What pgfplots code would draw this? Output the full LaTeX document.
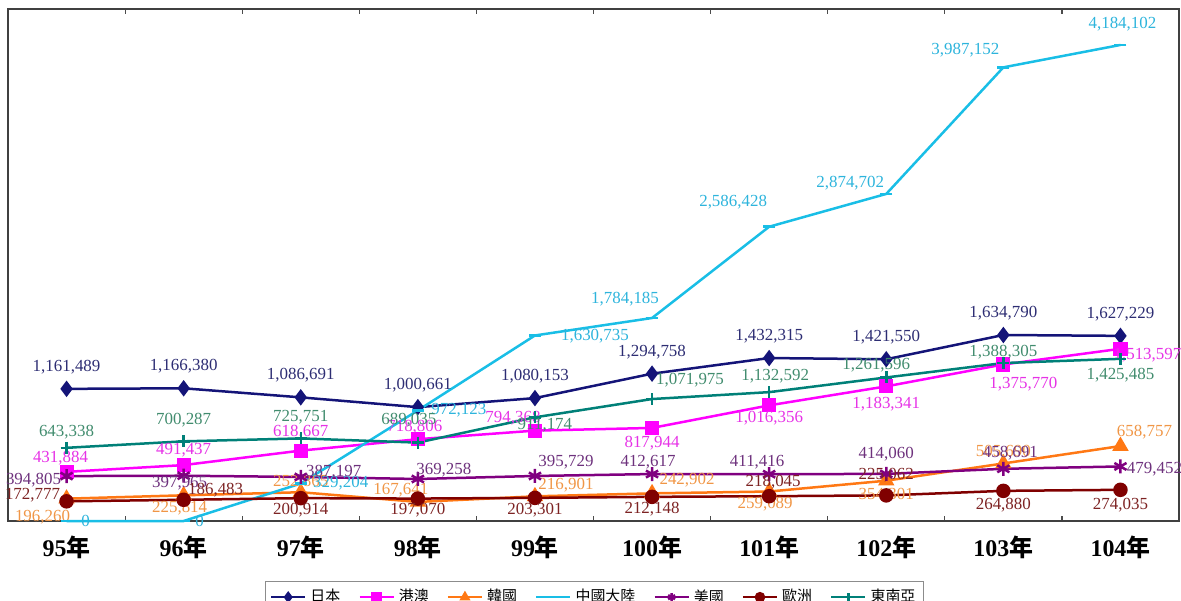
\documentclass[border=0pt]{standalone}
\usepackage{pgfplots}
\pgfplotsset{compat=1.18}
\usepackage{pgfplotstable}
\usepackage{fontspec}
\setmainfont{Liberation Serif}
\newfontfamily\cjk{Noto Sans CJK TC}

\definecolor{cJP}{RGB}{20,20,120}
\definecolor{cHK}{RGB}{255,0,255}
\definecolor{cKR}{RGB}{255,120,20}
\definecolor{cCN}{RGB}{25,190,230}
\definecolor{cUS}{RGB}{128,0,128}
\definecolor{cEU}{RGB}{128,0,0}
\definecolor{cSEA}{RGB}{0,128,120}
\definecolor{lJP}{RGB}{45,45,115}
\definecolor{lHK}{RGB}{230,50,230}
\definecolor{lKR}{RGB}{240,150,70}
\definecolor{lCN}{RGB}{45,180,220}
\definecolor{lUS}{RGB}{110,50,125}
\definecolor{lEU}{RGB}{125,35,35}
\definecolor{lSEA}{RGB}{65,140,110}

\pgfplotstableread{
x y lab dx dy
95 1161489 1,161,489 0 11
96 1166380 1,166,380 0 11
97 1086691 1,086,691 0 11
98 1000661 1,000,661 0 11
99 1080153 1,080,153 0 11
100 1294758 1,294,758 0 11
101 1432315 1,432,315 0 11
102 1421550 1,421,550 0 11
103 1634790 1,634,790 0 11
104 1627229 1,627,229 0 11
}\tJP
\pgfplotstableread{
x y lab dx dy
95 431884 431,884 -3 7
96 491437 491,437 0 7.5
97 618667 618,667 0 9
98 718806 718,806 -1.5 6
99 794368 794,368 -11 6
100 817944 817,944 0 -7.5
101 1016356 1,016,356 0 -6.5
102 1183341 1,183,341 0 -9
103 1375770 1,375,770 10 -10
104 1513597 1,513,597 13.5 -3
}\tHK
\pgfplotstableread{
x y lab dx dy
95 196260 196,260 -12 -9
96 225814 225,814 -2 -6.5
97 252865 252,865 0 5
98 167641 167,641 -8.5 6
99 216901 216,901 15.5 5.5
100 242902 242,902 17.5 6.5
101 259089 259,089 -2 -6.5
102 354301 354,301 0 -7
103 505690 505,690 0 5.5
104 658757 658,757 12 7
}\tKR
\pgfplotstableread{
x y lab dx dy
95 0 0 9.5 0
96 0 0 8 0
97 329204 329,204 20 0
98 972123 972,123 20.5 0
99 1630735 1,630,735 30 -0.5
100 1784185 1,784,185 -13.5 9.5
101 2586428 2,586,428 -18 12.5
102 2874702 2,874,702 -18 5.5
103 3987152 3,987,152 -19 8.5
104 4184102 4,184,102 1 10.5
}\tCN
\pgfplotstableread{
x y lab dx dy
95 394805 394,805 -16.5 -2
96 397965 397,965 -2 -3.5
97 387197 387,197 16.5 2.5
98 369258 369,258 13 4.5
99 395729 395,729 15.5 7
100 412617 412,617 -2 6
101 411416 411,416 -6 6
102 414060 414,060 0 10
103 458691 458,691 3.5 8
104 479452 479,452 17 -1.5
}\tUS
\pgfplotstableread{
x y lab dx dy
95 172777 172,777 -17 3
96 186483 186,483 16 5
97 200914 200,914 0 -6
98 197070 197,070 0 -6
99 203301 203,301 0 -6
100 212148 212,148 0 -6
101 218045 218,045 2 7
102 225062 225,062 0 10
103 264880 264,880 0 -7
104 274035 274,035 0 -7.5
}\tEU
\pgfplotstableread{
x y lab dx dy
95 643338 643,338 0 8
96 700287 700,287 0 10.5
97 725751 725,751 0 10.5
98 689035 689,035 -4.5 11
99 911174 911,174 5 -4
100 1071975 1,071,975 19 9.5
101 1132592 1,132,592 3 8
102 1261596 1,261,596 -5 6
103 1388305 1,388,305 0 5.5
104 1425485 1,425,485 0 -8
}\tSEA

\pgfplotsset{
  lbl/.style={
    nodes near coords,
    point meta=explicit symbolic,
    visualization depends on={\thisrow{dx}\as\mydx},
    visualization depends on={\thisrow{dy}\as\mydy},
    every node near coord/.append style={anchor=center, inner sep=0pt,
      xshift=\mydx bp, yshift=\mydy bp, text=#1,
      font=\fontsize{8.5}{9}\selectfont},
  },
}

\begin{document}
\begin{tikzpicture}
\begin{axis}[
  scale only axis,
  width=585.5bp, height=256bp,
  xmin=94.5, xmax=104.5,
  ymin=0, ymax=4500000,
  ytick=\empty,
  xtick={95,...,104},
  xticklabels={95{\cjk 年},96{\cjk 年},97{\cjk 年},98{\cjk 年},99{\cjk 年},100{\cjk 年},101{\cjk 年},102{\cjk 年},103{\cjk 年},104{\cjk 年}},
  xticklabel style={font=\fontsize{12}{12}\selectfont\bfseries, yshift=-4bp},
  major tick length=0pt,
  minor xtick={95.5,96.5,...,103.5},
  minor tick length=2.5bp,
  every tick/.style={black!70, line width=0.6bp},
  axis line style={draw=black!75, line width=1.1bp},
  clip=false,
  every legend image post/.append style={mark size=2bp},
  legend style={at={(axis description cs:0.501,-0.117)}, anchor=north,
    legend columns=7, draw=black!45, line width=0.5bp,
    font=\cjk\fontsize{7.5}{9}\selectfont, inner sep=2bp,
    /tikz/every even column/.append style={column sep=7bp}},
  legend cell align=left,
]
\addplot[cJP, line width=1.25bp, mark=diamond*, mark size=3.1bp, lbl=lJP] table[x=x,y=y,meta=lab]{\tJP};
\addlegendentry{日本}
\addplot[cHK, line width=1.25bp, mark=square*, mark size=2.9bp, lbl=lHK] table[x=x,y=y,meta=lab]{\tHK};
\addlegendentry{港澳}
\addplot[cKR, line width=1.25bp, mark=triangle*, mark size=3.5bp, lbl=lKR] table[x=x,y=y,meta=lab]{\tKR};
\addlegendentry{韓國}
\addplot[cCN, line width=1.25bp, mark=-, mark size=3bp, lbl=lCN] table[x=x,y=y,meta=lab]{\tCN};
\addlegendentry{中國大陸}
\addplot[cUS, line width=1.25bp, mark=asterisk, mark size=3.5bp, lbl=lUS] table[x=x,y=y,meta=lab]{\tUS};
\addlegendentry{美國}
\addplot[cEU, line width=1.25bp, mark=*, mark size=3bp, lbl=lEU] table[x=x,y=y,meta=lab]{\tEU};
\addlegendentry{歐洲}
\addplot[cSEA, line width=1.25bp, mark=+, mark size=3bp, lbl=lSEA] table[x=x,y=y,meta=lab]{\tSEA};
\addlegendentry{東南亞}
\end{axis}
\pgfresetboundingbox
\path ([shift={(-4bp,-40bp)}]current axis.south west) rectangle ([shift={(1bp,4.5bp)}]current axis.north east);
\end{tikzpicture}
\end{document}
